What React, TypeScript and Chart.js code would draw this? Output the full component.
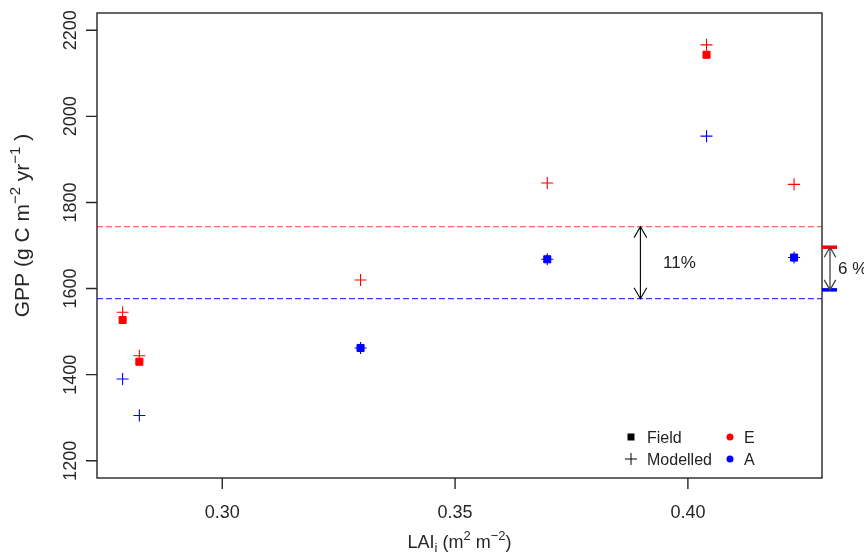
import React, { useEffect, useRef } from 'react';
import { Chart, registerables } from 'chart.js';

Chart.register(...registerables);

// ---------- data ----------
const lai = [0.2786, 0.2822, 0.3297, 0.3698, 0.4040, 0.4228];
const fieldGPP = [1527, 1430, 1462, 1668, 2143, 1672];
const fieldSite = ['E', 'E', 'A', 'A', 'E', 'A'];
const modelledE = [1545, 1444, 1620, 1845, 2166, 1842];
const modelledA = [1390, 1305, 1462, 1668, 1954, 1672];

const meanModelledE = 1743.7;
const meanModelledA = 1576.5;
const meanFieldE = 1696;
const meanFieldA = 1597;
const arrowLAI = 0.3898;
const modelledDiffLabel = '11%';
const fieldDiffLabel = '6 %';

const xTicks = [0.3, 0.35, 0.4];
const xTickLabels = ['0.30', '0.35', '0.40'];
const yTicks = [1200, 1400, 1600, 1800, 2000, 2200];
const yTickLabels = ['1200', '1400', '1600', '1800', '2000', '2200'];

const legendSymbols = ['Field', 'Modelled'];
const legendSites = ['E', 'A'];

const X_MIN = 0.2731;
const X_MAX = 0.4288;
const Y_MIN = 1160;
const Y_MAX = 2240;

const RED = '#ff0000';
const BLUE = '#0000ff';
const FONT = '"Liberation Sans", Arial, Helvetica, sans-serif';

type Seg = { t: string; k?: 'sup' | 'sub' };

function drawRich(ctx: CanvasRenderingContext2D, segs: Seg[], size: number, cx: number, base: number, rotate: boolean) {
  ctx.save();
  if (rotate) {
    ctx.translate(base, cx);
    ctx.rotate(-Math.PI / 2);
  } else {
    ctx.translate(cx, base);
  }
  const small = Math.round(size * 0.72);
  let total = 0;
  const widths = segs.map((s) => {
    ctx.font = `${s.k ? small : size}px ${FONT}`;
    const w = ctx.measureText(s.t).width;
    total += w;
    return w;
  });
  let x = -total / 2;
  ctx.textAlign = 'left';
  ctx.textBaseline = 'alphabetic';
  segs.forEach((s, i) => {
    ctx.font = `${s.k ? small : size}px ${FONT}`;
    const dy = s.k === 'sup' ? -size * 0.45 : s.k === 'sub' ? size * 0.22 : 0;
    ctx.fillText(s.t, x, dy);
    x += widths[i];
  });
  ctx.restore();
}

function drawDoubleArrow(ctx: CanvasRenderingContext2D, x: number, y1: number, y2: number, color: string, lw: number, head: number) {
  ctx.save();
  ctx.strokeStyle = color;
  ctx.lineWidth = lw;
  ctx.setLineDash([]);
  ctx.beginPath();
  ctx.moveTo(x, y1);
  ctx.lineTo(x, y2);
  const dx = head * Math.tan(Math.PI / 6);
  const top = Math.min(y1, y2);
  const bot = Math.max(y1, y2);
  ctx.moveTo(x - dx, top + head);
  ctx.lineTo(x, top);
  ctx.lineTo(x + dx, top + head);
  ctx.moveTo(x - dx, bot - head);
  ctx.lineTo(x, bot);
  ctx.lineTo(x + dx, bot - head);
  ctx.stroke();
  ctx.restore();
}

const decorPlugin = {
  id: 'decor',
  beforeDatasetsDraw(chart: any) {
    const { ctx, chartArea: a, scales } = chart;
    const ys = scales.y;
    ctx.save();
    ctx.lineWidth = 1.1;
    ctx.setLineDash([6, 3]);
    ctx.strokeStyle = '#ff3b3b';
    ctx.beginPath();
    const yE = ys.getPixelForValue(meanModelledE);
    ctx.moveTo(a.left, yE);
    ctx.lineTo(a.right, yE);
    ctx.stroke();
    ctx.strokeStyle = '#3b3bff';
    ctx.beginPath();
    const yA = ys.getPixelForValue(meanModelledA);
    ctx.moveTo(a.left, yA);
    ctx.lineTo(a.right, yA);
    ctx.stroke();
    ctx.restore();
  },
  afterDraw(chart: any) {
    const { ctx, chartArea: a, scales } = chart;
    const xs = scales.x;
    const ys = scales.y;
    ctx.save();

    // frame
    ctx.strokeStyle = '#262626';
    ctx.lineWidth = 1.4;
    ctx.strokeRect(a.left, a.top, a.right - a.left, a.bottom - a.top);

    // ticks
    ctx.beginPath();
    xTicks.forEach((v) => {
      const px = xs.getPixelForValue(v);
      ctx.moveTo(px, a.bottom);
      ctx.lineTo(px, a.bottom + 11);
    });
    yTicks.forEach((v) => {
      const py = ys.getPixelForValue(v);
      ctx.moveTo(a.left, py);
      ctx.lineTo(a.left - 11, py);
    });
    ctx.stroke();

    // tick labels
    ctx.fillStyle = '#262626';
    ctx.font = `18px ${FONT}`;
    ctx.textAlign = 'center';
    ctx.textBaseline = 'alphabetic';
    xTicks.forEach((v, i) => {
      ctx.fillText(xTickLabels[i], xs.getPixelForValue(v), a.bottom + 40);
    });
    yTicks.forEach((v, i) => {
      ctx.save();
      ctx.translate(a.left - 21, ys.getPixelForValue(v));
      ctx.rotate(-Math.PI / 2);
      ctx.fillText(yTickLabels[i], 0, 0);
      ctx.restore();
    });

    // axis titles
    const cx = (a.left + a.right) / 2;
    const cy = (a.top + a.bottom) / 2;
    drawRich(ctx, [
      { t: 'LAI' }, { t: 'i', k: 'sub' }, { t: ' (m' }, { t: '2', k: 'sup' }, { t: ' m' }, { t: '\u22122', k: 'sup' }, { t: ')' },
    ], 18, cx, a.bottom + 70, false);
    drawRich(ctx, [
      { t: 'GPP (g C m' }, { t: '\u22122', k: 'sup' }, { t: ' yr' }, { t: '\u22121', k: 'sup' }, { t: ' )' },
    ], 21, cy - 20, 29, true);

    // modelled difference arrow
    const ax = xs.getPixelForValue(arrowLAI);
    const yE = ys.getPixelForValue(meanModelledE);
    const yA = ys.getPixelForValue(meanModelledA);
    drawDoubleArrow(ctx, ax, yE, yA, '#000', 1.1, 11);
    ctx.fillStyle = '#222';
    ctx.font = `17px ${FONT}`;
    ctx.textAlign = 'center';
    ctx.textBaseline = 'middle';
    ctx.fillText(modelledDiffLabel, ax + 39, (yE + yA) / 2 + 1);

    // field mean markers outside plot
    const fE = ys.getPixelForValue(meanFieldE);
    const fA = ys.getPixelForValue(meanFieldA);
    ctx.lineWidth = 3.5;
    ctx.strokeStyle = RED;
    ctx.beginPath();
    ctx.moveTo(a.right, fE);
    ctx.lineTo(a.right + 15, fE);
    ctx.stroke();
    ctx.strokeStyle = BLUE;
    ctx.beginPath();
    ctx.moveTo(a.right, fA);
    ctx.lineTo(a.right + 15, fA);
    ctx.stroke();
    drawDoubleArrow(ctx, a.right + 8, fE, fA, '#444', 1.3, 10);
    ctx.fillStyle = '#222';
    ctx.font = `17px ${FONT}`;
    ctx.textAlign = 'left';
    ctx.textBaseline = 'middle';
    ctx.fillText(fieldDiffLabel, a.right + 16, (fE + fA) / 2 + 1);

    // legend
    const lx = 631;
    const ly = [437, 459];
    ctx.fillStyle = '#000';
    ctx.fillRect(lx - 3.5, ly[0] - 3.5, 7, 7);
    ctx.strokeStyle = '#000';
    ctx.lineWidth = 1;
    ctx.beginPath();
    ctx.moveTo(lx - 6, ly[1]);
    ctx.lineTo(lx + 6, ly[1]);
    ctx.moveTo(lx, ly[1] - 6);
    ctx.lineTo(lx, ly[1] + 6);
    ctx.stroke();
    ctx.font = `16px ${FONT}`;
    ctx.textAlign = 'left';
    ctx.textBaseline = 'middle';
    ctx.fillStyle = '#222';
    ctx.fillText(legendSymbols[0], lx + 16, ly[0] + 2);
    ctx.fillText(legendSymbols[1], lx + 16, ly[1] + 2);
    const dx = 730;
    ctx.fillStyle = RED;
    ctx.beginPath();
    ctx.arc(dx, ly[0], 3.5, 0, Math.PI * 2);
    ctx.fill();
    ctx.fillStyle = BLUE;
    ctx.beginPath();
    ctx.arc(dx, ly[1], 3.5, 0, Math.PI * 2);
    ctx.fill();
    ctx.fillStyle = '#222';
    ctx.fillText(legendSites[0], dx + 14, ly[0] + 2);
    ctx.fillText(legendSites[1], dx + 14, ly[1] + 2);

    ctx.restore();
  },
};

export default function App() {
  const ref = useRef<HTMLCanvasElement>(null);
  useEffect(() => {
    const fieldE = lai.map((x, i) => ({ x, y: fieldGPP[i] })).filter((_, i) => fieldSite[i] === 'E');
    const fieldA = lai.map((x, i) => ({ x, y: fieldGPP[i] })).filter((_, i) => fieldSite[i] === 'A');
    const chart = new Chart(ref.current as HTMLCanvasElement, {
      type: 'scatter',
      data: {
        datasets: [
          { label: 'Modelled E', data: lai.map((x, i) => ({ x, y: modelledE[i] })), pointStyle: 'cross', pointRadius: 6, borderColor: RED, backgroundColor: RED, borderWidth: 1.1, order: 0 },
          { label: 'Modelled A', data: lai.map((x, i) => ({ x, y: modelledA[i] })), pointStyle: 'cross', pointRadius: 6, borderColor: BLUE, backgroundColor: BLUE, borderWidth: 1.1, order: 0 },
          { label: 'Field E', data: fieldE, pointStyle: 'rect', pointRadius: 5, borderColor: RED, backgroundColor: RED, borderWidth: 1, order: 1 },
          { label: 'Field A', data: fieldA, pointStyle: 'rect', pointRadius: 5, borderColor: BLUE, backgroundColor: BLUE, borderWidth: 1, order: 1 },
        ],
      },
      options: {
        responsive: false,
        animation: false,
        devicePixelRatio: 1,
        layout: { padding: { left: 97, right: 42, top: 13, bottom: 81 } },
        scales: {
          x: { type: 'linear', min: X_MIN, max: X_MAX, display: false },
          y: { type: 'linear', min: Y_MIN, max: Y_MAX, display: false },
        },
        plugins: { legend: { display: false }, tooltip: { enabled: false } },
      },
      plugins: [decorPlugin],
    });
    return () => chart.destroy();
  }, []);
  return (
    <div style={{ position: 'fixed', left: 0, top: 0, width: 864, height: 559, background: '#fff' }}>
      <canvas ref={ref} width={864} height={559} style={{ display: 'block' }} />
    </div>
  );
}
